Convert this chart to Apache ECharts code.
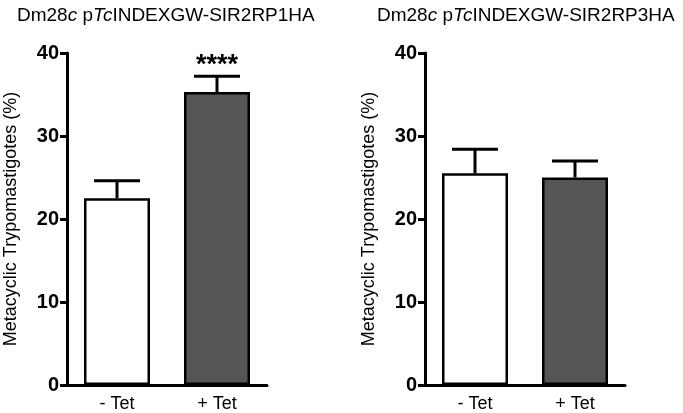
<!DOCTYPE html>
<html>
<head>
<meta charset="utf-8">
<script src="https://cdn.jsdelivr.net/npm/echarts@6/dist/echarts.min.js"></script>
<style>html,body{margin:0;padding:0;background:#fff}#c{width:683px;height:413px}</style>
</head>
<body>
<div id="c"></div>
<script>
var categories = ['- Tet', '+ Tet'];
var rp1Mean = [22.5, 35.3];
var rp1Err = [2.1, 1.9];
var rp1Sig = ['', '****'];
var rp3Mean = [25.5, 25.0];
var rp3Err = [2.9, 2.0];
var rp3Sig = ['', ''];
var barColors = ['#ffffff', '#555555'];
var yTicks = [0, 10, 20, 30, 40];
var yName = 'Metacyclic Trypomastigotes (%)';

var FONT = '"Liberation Sans", Arial, sans-serif';

function barSeries(mean, axisIdx) {
  return {
    type: 'bar', xAxisIndex: axisIdx, yAxisIndex: axisIdx,
    barWidth: 66, silent: true,
    data: mean.map(function (v, i) {
      return { value: v, itemStyle: { color: barColors[i], borderColor: '#000', borderWidth: 2.5 } };
    }),
    z: 3
  };
}
function errSeries(mean, err, sig, axisIdx) {
  return {
    type: 'custom', xAxisIndex: axisIdx, yAxisIndex: axisIdx, silent: true, z: 2,
    data: mean.map(function (v, i) { return [i, v, v + err[i]]; }),
    renderItem: function (params, api) {
      var i = api.value(0);
      var p0 = api.coord([i, api.value(1)]);
      var p1 = api.coord([i, api.value(2)]);
      var s = sig[i];
      var half = 23;
      var st = { stroke: '#000', lineWidth: 3 };
      var children = [
        { type: 'line', shape: { x1: p0[0], y1: p0[1], x2: p1[0], y2: p1[1] }, style: st },
        { type: 'line', shape: { x1: p1[0] - half, y1: p1[1], x2: p1[0] + half, y2: p1[1] }, style: st }
      ];
      if (s) {
        children.push({ type: 'text', style: { text: s, x: p1[0], y: p1[1] + 3, textAlign: 'center', textVerticalAlign: 'bottom', font: 'bold 27px ' + FONT, fill: '#000' } });
      }
      return { type: 'group', children: children };
    }
  };
}
function xAxis(gi) {
  return {
    type: 'category', gridIndex: gi, data: categories,
    axisLine: { lineStyle: { color: '#000', width: 3 } },
    axisTick: { alignWithLabel: true, length: 6, lineStyle: { color: '#000', width: 3 } },
    axisLabel: { color: '#000', fontSize: 18, fontFamily: FONT, margin: 10 }
  };
}
function yAxis(gi) {
  return {
    type: 'value', gridIndex: gi, min: yTicks[0], max: yTicks[yTicks.length - 1], interval: 10,
    name: yName, nameLocation: 'middle', nameGap: 47, nameRotate: 90,
    nameTextStyle: { color: '#000', fontSize: 18, fontFamily: FONT },
    splitLine: { show: false },
    axisLine: { show: true, lineStyle: { color: '#000', width: 3 } },
    axisTick: { show: true, length: 7, lineStyle: { color: '#000', width: 3 } },
    axisLabel: { color: '#000', fontSize: 20, fontWeight: 'bold', fontFamily: FONT, margin: 8 }
  };
}
function titleText() {
  return '{n|Dm28}{i|c}{n| p}{i|Tc}{n|INDEXGW-SIR2RP';
}
var titleRich = {
  n: { fontSize: 19, fontWeight: 'normal', fontFamily: FONT, color: '#000' },
  i: { fontSize: 19, fontWeight: 'normal', fontFamily: FONT, fontStyle: 'italic', color: '#000' }
};

var chart = echarts.init(document.getElementById('c'), null, { renderer: 'canvas' });
chart.setOption({
  animation: false,
  backgroundColor: '#fff',
  title: [
    { text: titleText() + '1HA}', left: 12, top: 1, textStyle: { fontWeight: 'normal', rich: titleRich } },
    { text: titleText() + '3HA}', left: 372, top: 1, textStyle: { fontWeight: 'normal', rich: titleRich } }
  ],
  grid: [
    { left: 67, right: 416, top: 53, bottom: 26 },
    { left: 425, right: 58, top: 53, bottom: 26 }
  ],
  xAxis: [xAxis(0), xAxis(1)],
  yAxis: [yAxis(0), yAxis(1)],
  series: [
    barSeries(rp1Mean, 0), errSeries(rp1Mean, rp1Err, rp1Sig, 0),
    barSeries(rp3Mean, 1), errSeries(rp3Mean, rp3Err, rp3Sig, 1)
  ]
});
</script>
</body>
</html>
